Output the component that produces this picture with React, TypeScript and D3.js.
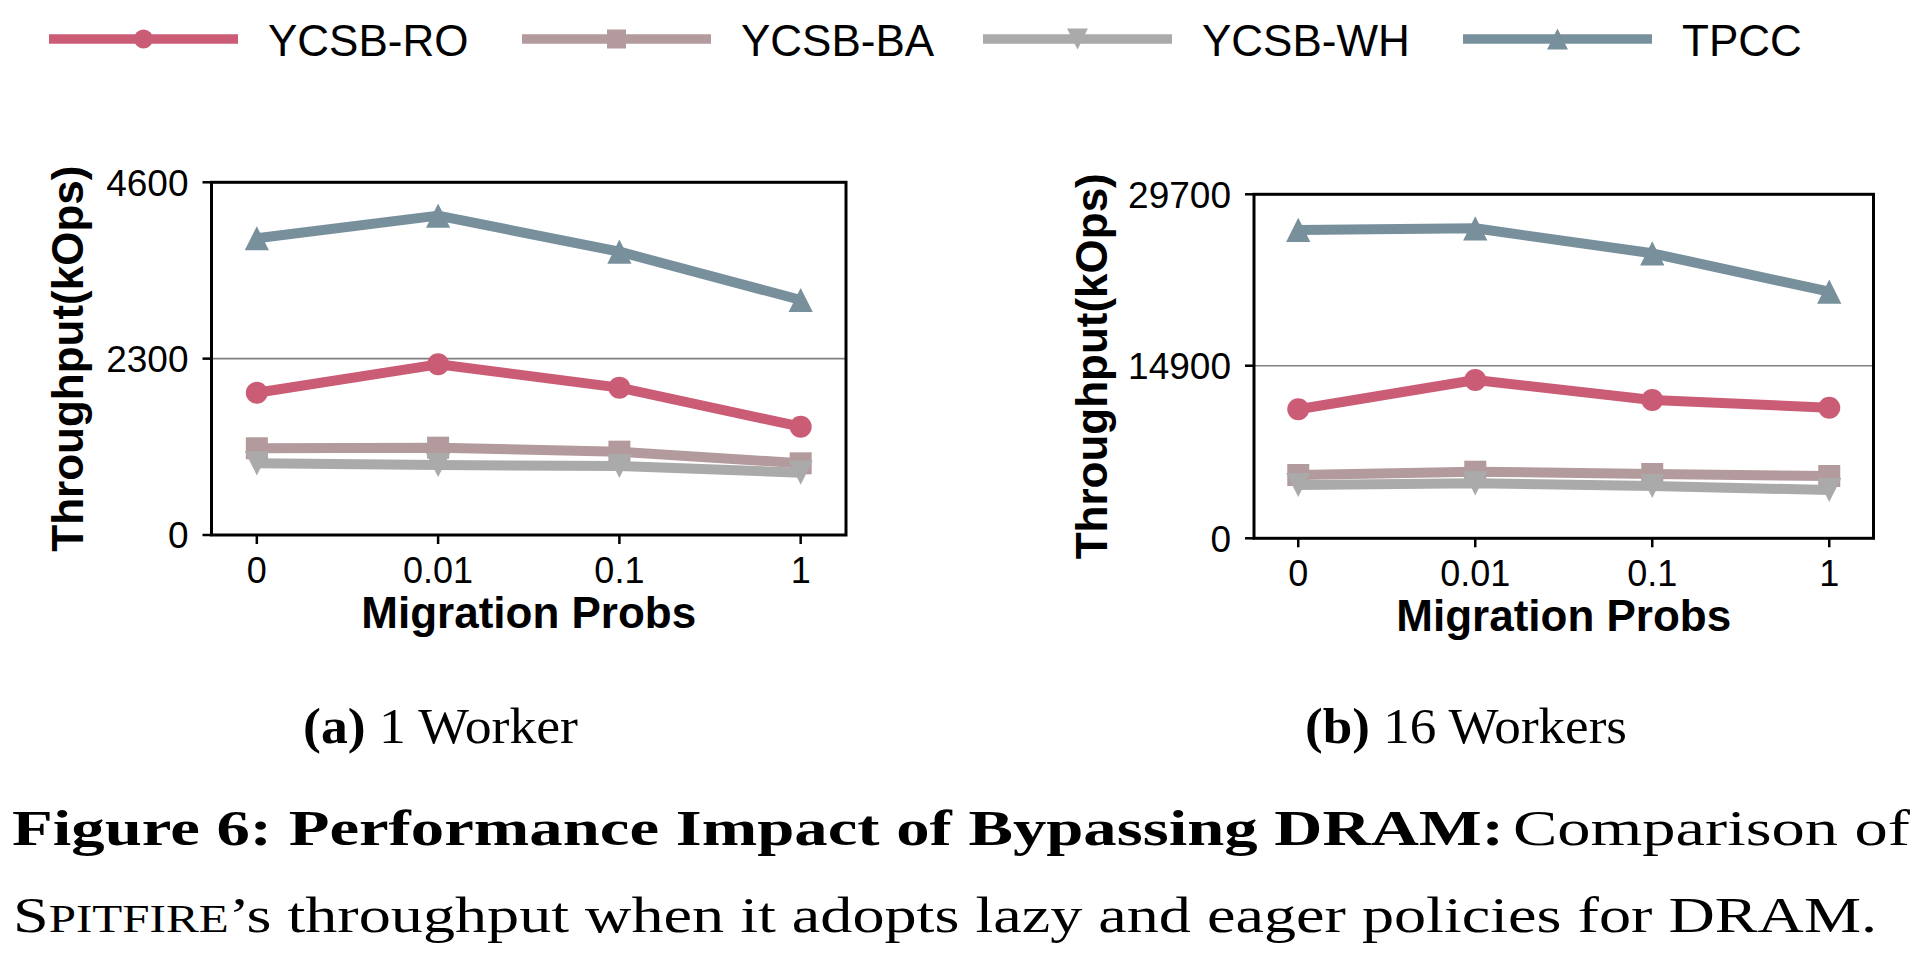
import React from "react";
import * as d3 from "d3";

const categories = ["0", "0.01", "0.1", "1"];
const seriesNames = ["YCSB-RO", "YCSB-BA", "YCSB-WH", "TPCC"];
const seriesColors = ["#cb5c76", "#b39a9c", "#aaaaaa", "#78909c"];
const seriesMarkers = ["circle", "square", "triangleDown", "triangleUp"];

const ro1 = [1856, 2226, 1922, 1413];
const ba1 = [1131, 1139, 1087, 935];
const wh1 = [935, 913, 900, 813];
const tpcc1 = [3870, 4165, 3695, 3065];

const ro16 = [11138, 13668, 11941, 11277];
const ba16 = [5465, 5750, 5552, 5380];
const wh16 = [4602, 4749, 4516, 4170];
const tpcc16 = [26620, 26765, 24607, 21290];

const yTicks1 = [0, 2300, 4600];
const yTicks16 = [0, 14900, 29700];

const xTitle = "Migration Probs";
const yTitle = "Throughput(kOps)";

const SANS = "'Liberation Sans', Arial, sans-serif";
const SERIF = "'Liberation Serif', 'Times New Roman', serif";

function markerPath(kind: string, r: number) {
  if (kind === "circle") return d3.symbol(d3.symbolCircle, Math.PI * r * r)() as string;
  if (kind === "square") return `M${-r},${-r}H${r}V${r}H${-r}Z`;
  const t = r * 1.1;
  if (kind === "triangleUp") return `M0,${-t}L${t},${t}L${-t},${t}Z`;
  return `M0,${t}L${t},${-t}L${-t},${-t}Z`;
}

type PanelProps = {
  left: number;
  right: number;
  top: number;
  bottom: number;
  ticks: number[];
  series: number[][];
  yTitleX: number;
};

function Panel({ left, right, top, bottom, ticks, series, yTitleX }: PanelProps) {
  const x = d3.scalePoint<string>().domain(categories).range([left, right]).padding(0.25);
  const y = d3.scaleLinear().domain([0, ticks[ticks.length - 1]]).range([bottom, top]);
  const line = d3
    .line<number>()
    .x((_, i) => x(categories[i]) as number)
    .y((d) => y(d));
  const cx = (left + right) / 2;
  const cy = (top + bottom) / 2;
  return (
    <g>
      {ticks.slice(1, -1).map((t) => (
        <line key={"g" + t} x1={left} x2={right} y1={y(t)} y2={y(t)} stroke="#808080" strokeWidth={1.6} />
      ))}
      {series.map((vals, si) => (
        <g key={si}>
          <path d={line(vals) as string} fill="none" stroke={seriesColors[si]} strokeWidth={10} strokeLinejoin="round" />
          {vals.map((v, i) => (
            <path
              key={i}
              d={markerPath(seriesMarkers[si], 11)}
              transform={`translate(${x(categories[i])},${y(v)})`}
              fill={seriesColors[si]}
            />
          ))}
        </g>
      ))}
      <rect x={left} y={top} width={right - left} height={bottom - top} fill="none" stroke="#000" strokeWidth={3} />
      {ticks.map((t) => (
        <g key={"yt" + t}>
          <line x1={left - 9} x2={left} y1={y(t)} y2={y(t)} stroke="#000" strokeWidth={2.5} />
          <text x={left - 23} y={y(t)} dy="0.36em" textAnchor="end" fontFamily={SANS} fontSize={37}>
            {t}
          </text>
        </g>
      ))}
      {categories.map((c) => (
        <g key={"xt" + c}>
          <line x1={x(c)} x2={x(c)} y1={bottom} y2={bottom + 9} stroke="#000" strokeWidth={2.5} />
          <text x={x(c)} y={bottom + 48} textAnchor="middle" fontFamily={SANS} fontSize={36}>
            {c}
          </text>
        </g>
      ))}
      <text x={cx} y={bottom + 93} textAnchor="middle" fontFamily={SANS} fontWeight="bold" fontSize={44}>
        {xTitle}
      </text>
      <text
        transform={`translate(${yTitleX},${cy}) rotate(-90)`}
        textAnchor="middle"
        fontFamily={SANS}
        fontWeight="bold"
        fontSize={44}
      >
        {yTitle}
      </text>
    </g>
  );
}

const legendStarts = [49, 522, 983, 1463];

export default function App() {
  return (
    <svg
      width={1920}
      height={957}
      style={{ position: "absolute", left: 0, top: 0, background: "#fff", display: "block" }}
    >
      <rect width={1920} height={957} fill="#fff" />
      {seriesNames.map((name, i) => {
        const x0 = legendStarts[i];
        return (
          <g key={name}>
            <line x1={x0} x2={x0 + 189} y1={39} y2={39} stroke={seriesColors[i]} strokeWidth={9.5} />
            <path d={markerPath(seriesMarkers[i], 9.5)} transform={`translate(${x0 + 94.5},39)`} fill={seriesColors[i]} />
            <text x={x0 + 219} y={56} fontFamily={SANS} fontSize={44}>
              {name}
            </text>
          </g>
        );
      })}
      <Panel left={211.5} right={846} top={182.3} bottom={535} ticks={yTicks1} series={[ro1, ba1, wh1, tpcc1]} yTitleX={83} />
      <Panel left={1254} right={1873.5} top={194.3} bottom={538.3} ticks={yTicks16} series={[ro16, ba16, wh16, tpcc16]} yTitleX={1107} />

      <text x={303} y={743} fontFamily={SERIF} fontSize={50} textLength={275} lengthAdjust="spacingAndGlyphs">
        <tspan fontWeight="bold">(a)</tspan> 1 Worker
      </text>
      <text x={1305} y={743} fontFamily={SERIF} fontSize={50} textLength={322} lengthAdjust="spacingAndGlyphs">
        <tspan fontWeight="bold">(b)</tspan> 16 Workers
      </text>

      <text x={12} y={845} fontFamily={SERIF} fontSize={51} fontWeight="bold" textLength={1492} lengthAdjust="spacingAndGlyphs">
        Figure 6: Performance Impact of Bypassing DRAM:
      </text>
      <text x={1513} y={845} fontFamily={SERIF} fontSize={51} textLength={397} lengthAdjust="spacingAndGlyphs">
        Comparison of
      </text>
      <text x={13} y={932} fontFamily={SERIF} fontSize={51} textLength={1864} lengthAdjust="spacingAndGlyphs">
        S<tspan fontSize={39}>PITFIRE</tspan>’s throughput when it adopts lazy and eager policies for DRAM.
      </text>
    </svg>
  );
}
